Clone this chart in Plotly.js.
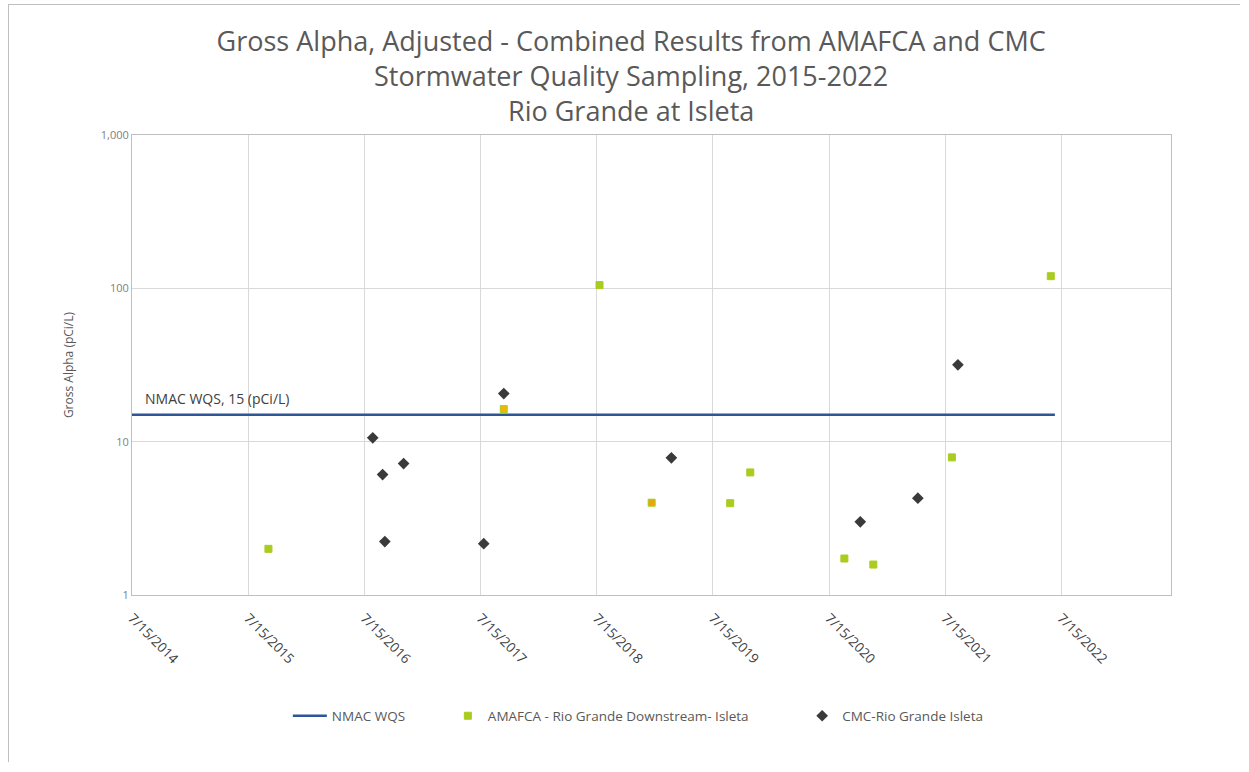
<!DOCTYPE html>
<html><head><meta charset="utf-8">
<script src="https://cdn.plot.ly/plotly-3.0.1.min.js"></script>
<style>html,body{margin:0;padding:0;background:#fff}
#chart{position:absolute;left:8px;top:4px;width:1232px;height:758px;border:1px solid #bfbfbf;box-sizing:border-box}</style>
</head><body><div id="chart"></div>
<script>
const wqsDates = ['2014-07-15', '2022-06-25'];
const wqsValues = [15, 15];
const amafcaDates = ['2015-09-17','2017-09-26','2018-07-24','2019-01-04','2019-09-08','2019-11-10','2020-09-01','2020-12-01','2021-08-05','2022-06-12'];
const amafcaValues = [2.0, 16.3, 105, 4.0, 3.97, 6.3, 1.73, 1.58, 7.9, 120];
const cmcDates = ['2016-08-10','2016-09-10','2016-09-17','2016-11-15','2017-07-25','2017-09-26','2019-03-07','2020-10-21','2021-04-20','2021-08-24'];
const cmcValues = [10.6, 6.1, 2.23, 7.2, 2.16, 20.6, 7.85, 3.0, 4.28, 31.7];
const tickDates = ['2014-07-15','2015-07-15','2016-07-15','2017-07-15','2018-07-15','2019-07-15','2020-07-15','2021-07-15','2022-07-15'];
const tickLabels = ['7/15/2014','7/15/2015','7/15/2016','7/15/2017','7/15/2018','7/15/2019','7/15/2020','7/15/2021','7/15/2022'];
const yTickVals = [1, 10, 100, 1000];
const yTickLabels = ['1', '10', '100', '1,000'];

const green = '#a9cc1f';
const amafcaColors = amafcaValues.map((v, i) => i === 1 ? '#f2b705' : (i === 3 ? '#e8a50c' : green));

const traces = [
  {x: wqsDates, y: wqsValues, type: 'scatter', mode: 'lines', name: 'NMAC WQS', legend: 'legend',
   line: {color: '#2e5597', width: 2.5}},
  {x: amafcaDates, y: amafcaValues, type: 'scatter', mode: 'markers', name: 'AMAFCA - Rio Grande Downstream- Isleta', legend: 'legend2',
   marker: {symbol: 'square', size: 7, color: amafcaColors, line: {color: green, width: 1}}},
  {x: cmcDates, y: cmcValues, type: 'scatter', mode: 'markers', name: 'CMC-Rio Grande Isleta', legend: 'legend3',
   marker: {symbol: 'diamond', size: 9, color: '#3a3a3a'}}
];

const legFont = {size: 13.5, color: '#595959'};
const legY = -0.263;
const layout = {
  width: 1232, height: 758,
  margin: {l: 123, r: 70, t: 130, b: 168},
  paper_bgcolor: '#fff', plot_bgcolor: '#fff',
  font: {family: 'Open Sans, Liberation Sans, sans-serif', color: '#595959'},
  title: {text: 'Gross Alpha, Adjusted - Combined Results from AMAFCA and CMC<br>Stormwater Quality Sampling, 2015-2022<br>Rio Grande at Isleta',
    font: {size: 27, color: '#595959'}, x: 0.505, xanchor: 'center', yref: 'container', y: 0.939, yanchor: 'top'},
  xaxis: {type: 'date', range: ['2014-07-15', '2023-06-25'], tickvals: tickDates, ticktext: tickLabels,
    tickangle: 45, tickfont: {size: 13.5, color: '#404040'}, ticklabelstandoff: 9, showgrid: true, gridcolor: '#d9d9d9', gridwidth: 1,
    showline: true, linecolor: '#bfbfbf', linewidth: 1, mirror: true, zeroline: false, ticks: ''},
  yaxis: {type: 'log', range: [0, 3], tickvals: yTickVals, ticktext: yTickLabels,
    tickfont: {size: 11, color: '#808080'}, showgrid: true, gridcolor: '#d9d9d9', gridwidth: 1,
    showline: true, linecolor: '#bfbfbf', linewidth: 1, mirror: true, zeroline: false, ticks: '',
    title: {text: 'Gross Alpha (pCi/L)', font: {size: 12, color: '#595959'}, standoff: 24}},
  legend: {orientation: 'h', x: 0.150, xanchor: 'left', y: legY, yanchor: 'middle', font: legFont, itemwidth: 34},
  legend2: {orientation: 'h', x: 0.304, xanchor: 'left', y: legY, yanchor: 'middle', font: legFont, itemwidth: 30},
  legend3: {orientation: 'h', x: 0.645, xanchor: 'left', y: legY, yanchor: 'middle', font: legFont, itemwidth: 30},
  annotations: [{xref: 'x', yref: 'y', x: '2014-08-20', y: Math.log10(15), text: 'NMAC WQS, 15 (pCi/L)',
    showarrow: false, xanchor: 'left', yanchor: 'bottom', yshift: 5, font: {size: 14, color: '#404040'}}],
  showlegend: true
};
Plotly.newPlot('chart', traces, layout, {displayModeBar: false, staticPlot: true});
</script></body></html>
